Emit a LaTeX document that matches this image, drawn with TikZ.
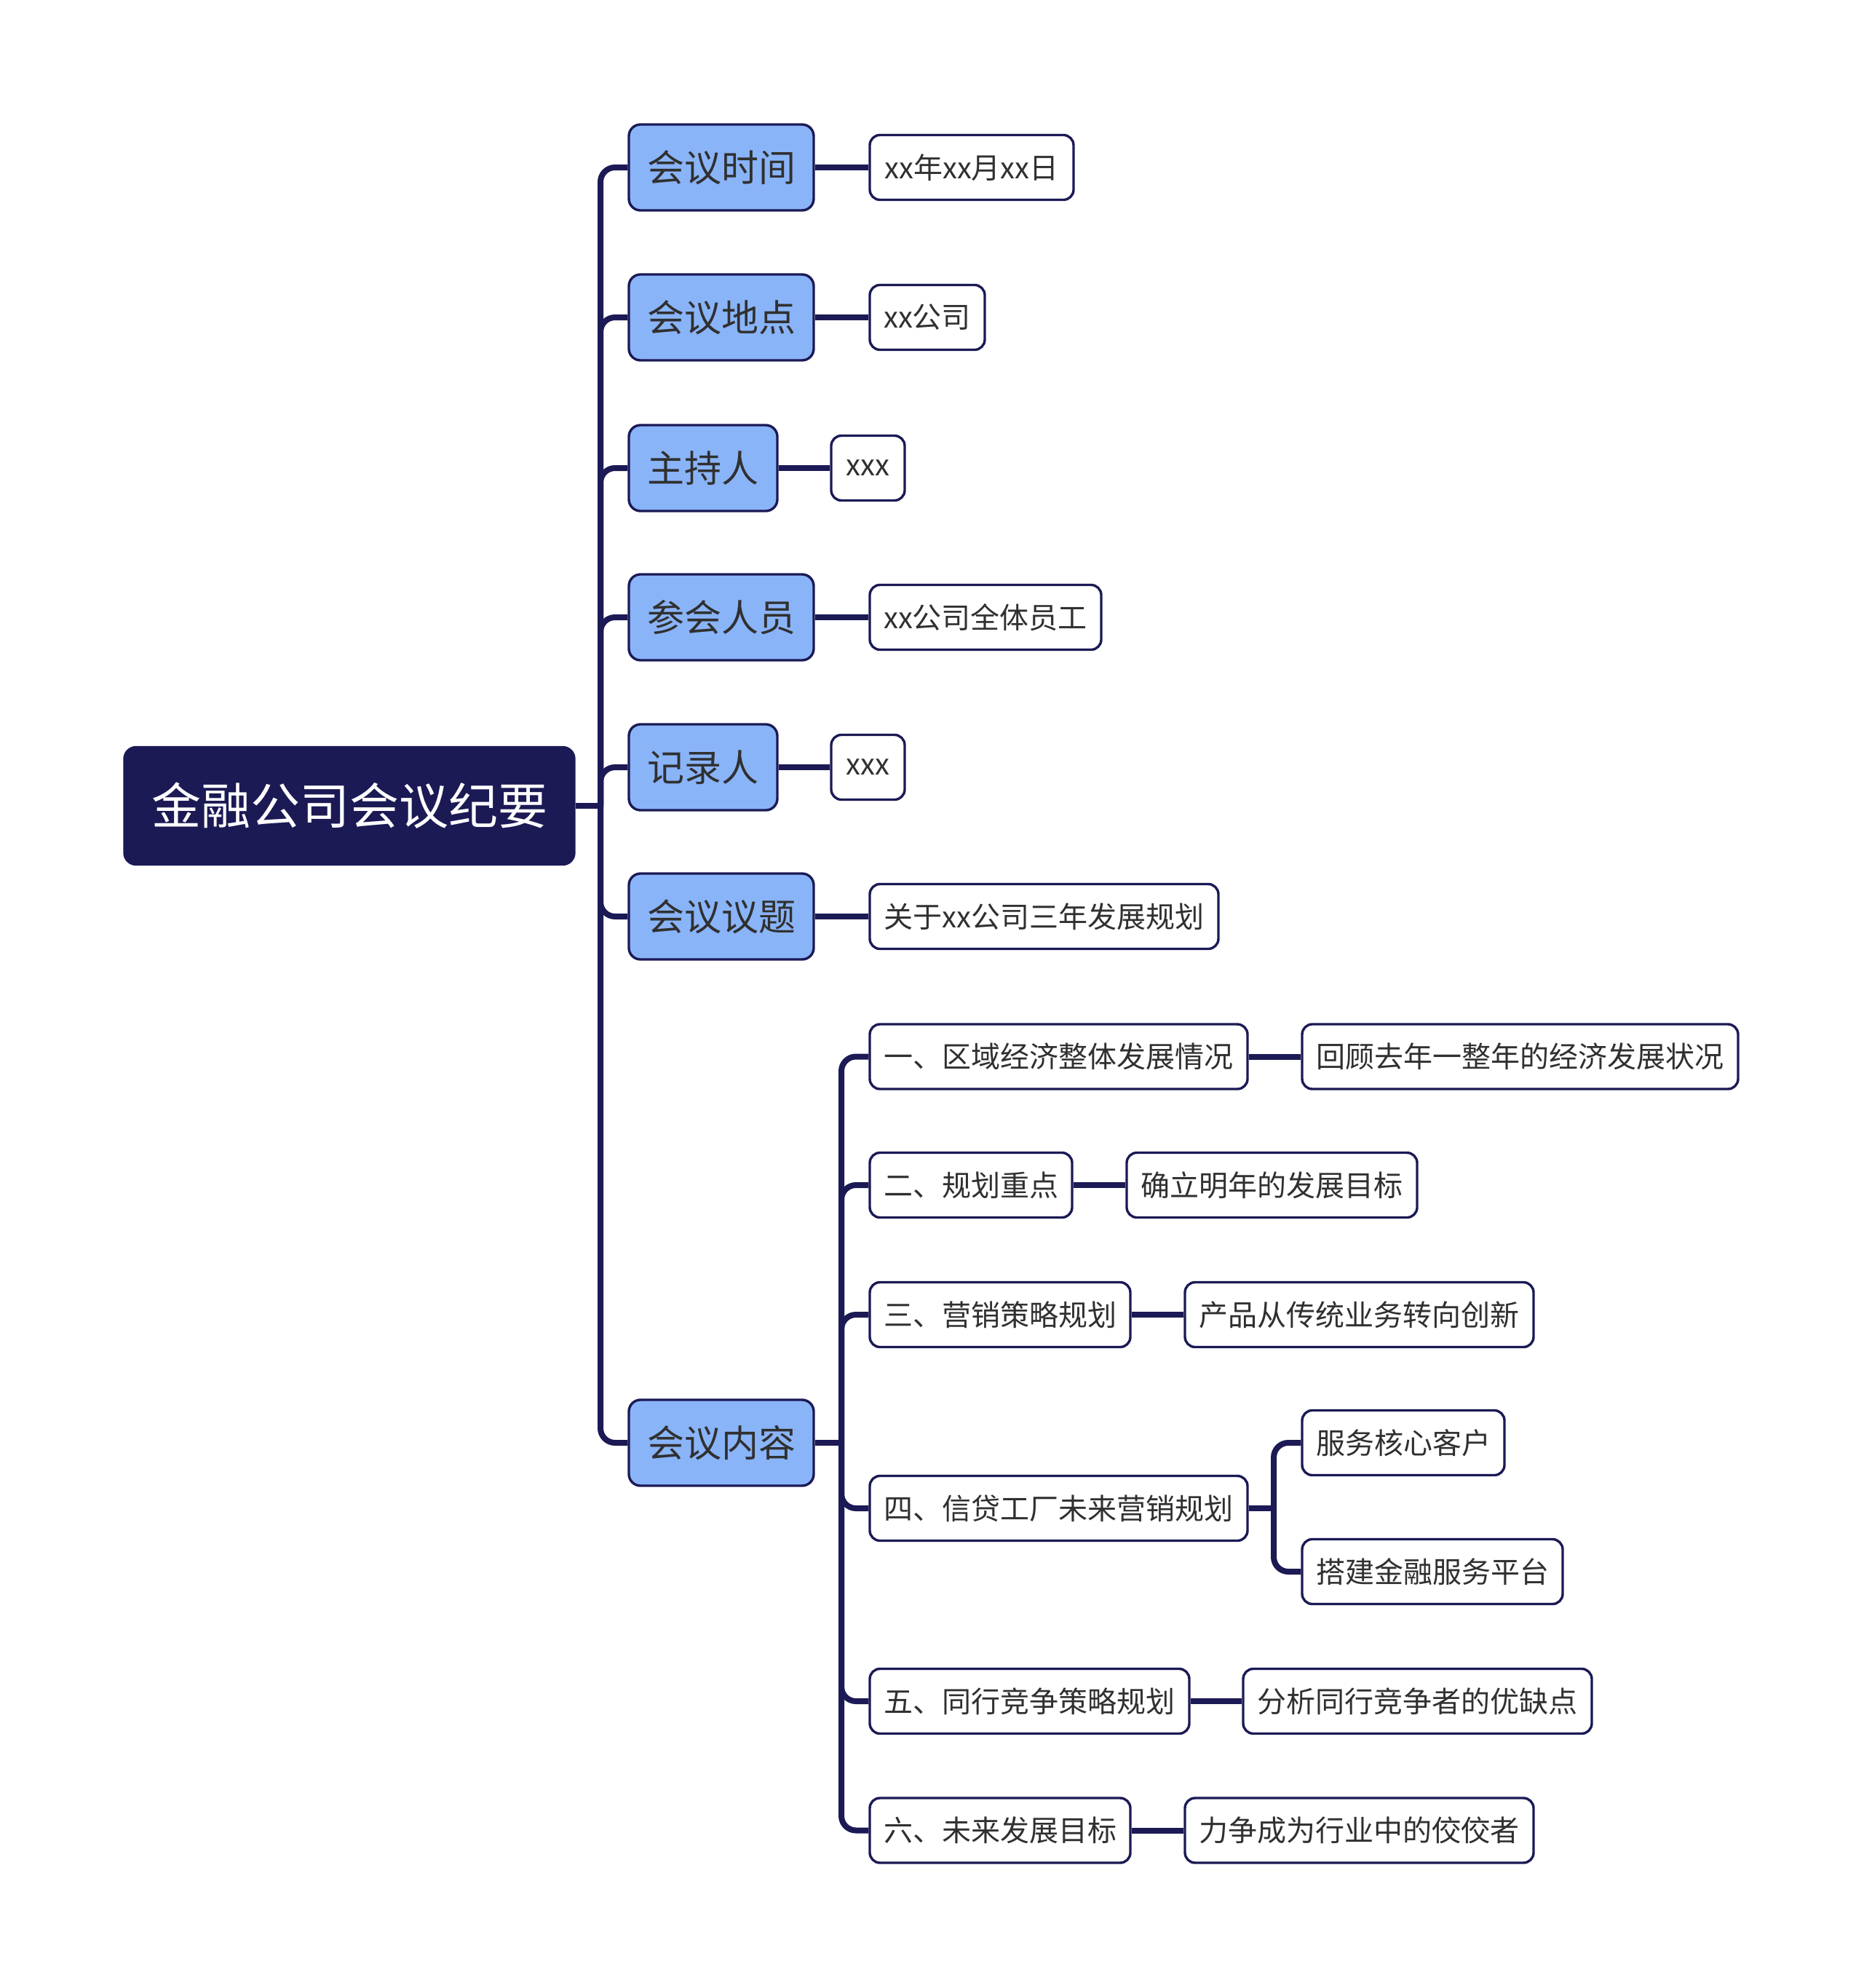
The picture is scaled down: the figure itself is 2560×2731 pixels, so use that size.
\documentclass[tikz,border=0pt]{standalone}
\usepackage{fontspec}
\setmainfont{Noto Sans CJK SC}
\usepackage{tikz}
\usetikzlibrary{calc}

\definecolor{navy}{HTML}{1B1A55}
\definecolor{skyblue}{HTML}{8AB4F8}
\definecolor{ink}{HTML}{303030}

\begin{document}
\begin{tikzpicture}[x=0.5pt, y=-0.5pt,
    root/.style={draw=navy, fill=navy, line width=1.7pt, rounded corners=8pt, text=white,
        minimum width=309pt, minimum height=80.5pt, inner sep=0pt, font=\fontsize{34pt}{40pt}\selectfont},
    topic/.style={draw=navy, fill=skyblue, line width=1.7pt, rounded corners=8pt, text=ink,
        minimum height=59pt, inner sep=0pt, font=\fontsize{25.5pt}{30pt}\selectfont},
    leaf/.style={draw=navy, fill=white, line width=1.7pt, rounded corners=7pt, text=ink,
        minimum height=44.5pt, inner sep=0pt, font=\fontsize{20pt}{24pt}\selectfont},
    link/.style={draw=navy, line width=4pt, rounded corners=10pt}]
    \useasboundingbox (0,0) rectangle (2560,2731);

    % Root
    \node[root] (root) at (480,1107) {金融公司会议纪要};

    % Topics
    \node[topic, minimum width=127pt] (t1) at (991,230) {会议时间};
    \node[topic, minimum width=127pt] (t2) at (991,436) {会议地点};
    \node[topic, minimum width=102pt] (t3) at (966,643) {主持人};
    \node[topic, minimum width=127pt] (t4) at (991,848) {参会人员};
    \node[topic, minimum width=102pt] (t5) at (966,1054) {记录人};
    \node[topic, minimum width=127pt] (t6) at (991,1259) {会议议题};
    \node[topic, minimum width=127pt] (t7) at (991,1982) {会议内容};

    % Details of the first topics
    \node[leaf, minimum width=140pt] (a1) at (1335,230) {xx年xx月xx日};
    \node[leaf, minimum width=79pt] (a2) at (1274,436) {xx公司};
    \node[leaf, minimum width=50.5pt] (a3) at (1192.5,643) {xxx};
    \node[leaf, minimum width=159pt] (a4) at (1354,848) {xx公司全体员工};
    \node[leaf, minimum width=50.5pt] (a5) at (1192.5,1054) {xxx};
    \node[leaf, minimum width=239.5pt] (a6) at (1434.5,1259) {关于xx公司三年发展规划};

    % Meeting content
    \node[leaf, minimum width=259.5pt] (b1) at (1454.5,1451.5) {一、区域经济整体发展情况};
    \node[leaf, minimum width=139pt] (b2) at (1334,1628) {二、规划重点};
    \node[leaf, minimum width=179pt] (b3) at (1374,1806) {三、营销策略规划};
    \node[leaf, minimum width=259.5pt] (b4) at (1454.5,2072) {四、信贷工厂未来营销规划};
    \node[leaf, minimum width=219.5pt] (b5) at (1414.5,2337) {五、同行竞争策略规划};
    \node[leaf, minimum width=179pt] (b6) at (1374,2514.5) {六、未来发展目标};

    \node[leaf, minimum width=299.5pt] (c1) at (2088.5,1451.5) {回顾去年一整年的经济发展状况};
    \node[leaf, minimum width=199.5pt] (c2) at (1747.5,1628) {确立明年的发展目标};
    \node[leaf, minimum width=239.5pt] (c3) at (1867.5,1806) {产品从传统业务转向创新};
    \node[leaf, minimum width=139pt] (d1) at (1928,1982) {服务核心客户};
    \node[leaf, minimum width=179pt] (d2) at (1968,2159) {搭建金融服务平台};
    \node[leaf, minimum width=239.5pt] (c5) at (1947.5,2337) {分析同行竞争者的优缺点};
    \node[leaf, minimum width=239.5pt] (c6) at (1867.5,2514.5) {力争成为行业中的佼佼者};

    % Junctions
    \coordinate (rj) at (825,1107);
    \coordinate (tj) at (1156,1982);
    \coordinate (fj) at (1750,2072);

    % Connectors
    \draw[link] (root.east) -- (rj);
    \foreach \n in {t1,t2,t3,t4,t5,t6,t7}
        \draw[link] (rj) |- (\n.west);
    \foreach \n/\m in {t1/a1,t2/a2,t3/a3,t4/a4,t5/a5,t6/a6}
        \draw[link] (\n.east) -- (\m.west);

    \draw[link] (t7.east) -- (tj);
    \foreach \n in {b1,b2,b3,b4,b5,b6}
        \draw[link] (tj) |- (\n.west);
    \foreach \n/\m in {b1/c1,b2/c2,b3/c3,b5/c5,b6/c6}
        \draw[link] (\n.east) -- (\m.west);

    \draw[link] (b4.east) -- (fj);
    \draw[link] (fj) |- (d1.west);
    \draw[link] (fj) |- (d2.west);
\end{tikzpicture}
\end{document}
